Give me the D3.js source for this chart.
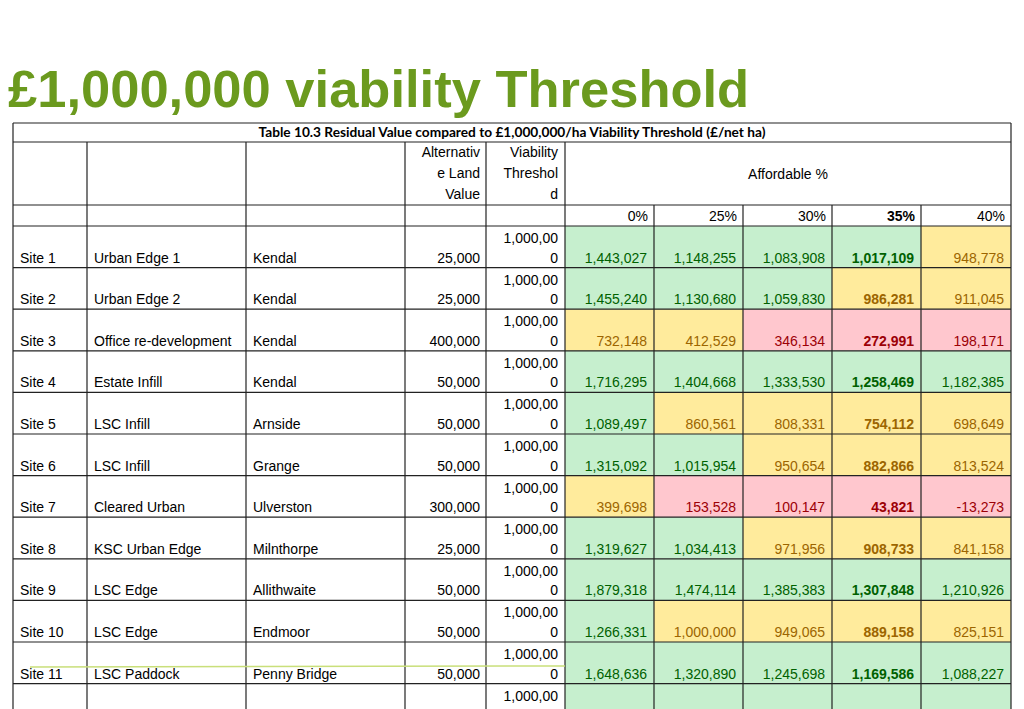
<!DOCTYPE html>
<html><head><meta charset="utf-8">
<script src="https://cdn.jsdelivr.net/npm/d3@7"></script>
<style>body{margin:0;background:#fff}</style></head>
<body><svg id="c" width="1024" height="709"></svg>
<script>
const sites=["Site 1","Site 2","Site 3","Site 4","Site 5","Site 6","Site 7","Site 8","Site 9","Site 10","Site 11",""];
const types=["Urban Edge 1","Urban Edge 2","Office re-development","Estate Infill","LSC Infill","LSC Infill","Cleared Urban","KSC Urban Edge","LSC Edge","LSC Edge","LSC Paddock",""];
const places=["Kendal","Kendal","Kendal","Kendal","Arnside","Grange","Ulverston","Milnthorpe","Allithwaite","Endmoor","Penny Bridge",""];
const altValues=[25000,25000,400000,50000,50000,50000,300000,25000,50000,50000,50000,null];
const threshold=1000000;
const pctLabels=["0%","25%","30%","35%","40%"];
const values=[
[1443027,1148255,1083908,1017109,948778],
[1455240,1130680,1059830,986281,911045],
[732148,412529,346134,272991,198171],
[1716295,1404668,1333530,1258469,1182385],
[1089497,860561,808331,754112,698649],
[1315092,1015954,950654,882866,813524],
[399698,153528,100147,43821,-13273],
[1319627,1034413,971956,908733,841158],
[1879318,1474114,1385383,1307848,1210926],
[1266331,1000000,949065,889158,825151],
[1648636,1320890,1245698,1169586,1088227],
[null,null,null,null,null]];
const svg=d3.select("#c");
const F="'Liberation Sans',Arial,sans-serif";
svg.append("text").attr("x",8).attr("y",107).attr("font-family",F).attr("font-weight","bold").attr("font-size",52.5).attr("fill","#6b9a1e").text("£1,000,000 viability Threshold");
const colEdges=[13,87,246,405,486,565,654,743,832,921,1011];
const x=i=>colEdges[i];
const y=d3.scaleBand().domain(d3.range(12)).range([226,226+12*41.6]).padding(0);
const fmt=v=>d3.format(",")(v).replace("−","-");
const cls=v=>v==null?"g":v>threshold?"g":v>=375000?"y":"r";
const fill={g:"#c6efce",y:"#ffeb9c",r:"#ffc7ce"}, ink={g:"#006100",y:"#9c6500",r:"#9c0006"};
const g=svg.append("g");
values.forEach((row,r)=>row.forEach((v,c)=>{
  g.append("rect").attr("x",x(5+c)).attr("y",y(r)).attr("width",x(6+c)-x(5+c)).attr("height",y.bandwidth()).attr("fill",fill[cls(v)]);
}));
const txt=(t,xx,yy,anchor,o={})=>g.append("text").attr("x",xx).attr("y",yy).attr("text-anchor",anchor).attr("font-family",o.f||F).attr("font-size",o.s||14).attr("font-weight",o.b?"bold":"normal").attr("fill",o.c||"#000").text(t);
txt("Table 10.3  Residual Value compared to £1,000,000/ha Viability Threshold (£/net ha)",512,137,"middle",{f:"Lato,'Open Sans',sans-serif",s:13.7,b:true});
["Alternativ","e Land","Value"].forEach((t,i)=>txt(t,x(4)-6,157+i*21,"end"));
["Viability","Threshol","d"].forEach((t,i)=>txt(t,x(5)-7,157+i*21,"end"));
txt("Affordable %",788,179,"middle");
pctLabels.forEach((p,i)=>txt(p,x(6+i)-6,221,"end",{b:i==3}));
for(let r=0;r<12;r++){
  const b=y(r)+y.bandwidth()-5;
  txt(sites[r],20,b,"start");txt(types[r],94,b,"start");txt(places[r],253,b,"start");
  if(altValues[r]!=null)txt(fmt(altValues[r]),x(4)-6,b,"end");
  txt("1,000,00",x(5)-7,y(r)+17,"end");
  if(altValues[r]!=null)txt("0",x(5)-7,b,"end");
  values[r].forEach((v,c)=>{if(v!=null)txt(fmt(v),x(6+c)-7,b,"end",{c:ink[cls(v)],b:c==3});});
}
const L=(x1,y1,x2,y2)=>g.append("line").attr("x1",x1).attr("y1",y1).attr("x2",x2).attr("y2",y2).attr("stroke","#222").attr("stroke-width",1.2);
const bottom=709;
L(13,123,1011,123);L(13,142,1011,142);L(13,205,1011,205);L(13,226,1011,226);
for(let r=1;r<12;r++)L(13,y(r),1011,y(r));
L(13,123,13,bottom);L(1011,123,1011,bottom);
for(let i=1;i<10;i++){
  if(i>=6) { L(x(i),205,x(i),bottom); } else L(x(i),142,x(i),bottom);
}
g.append("line").attr("x1",30).attr("y1",667).attr("x2",565).attr("y2",666).attr("stroke","#c9df7a").attr("stroke-width",1.5);
</script></body></html>
